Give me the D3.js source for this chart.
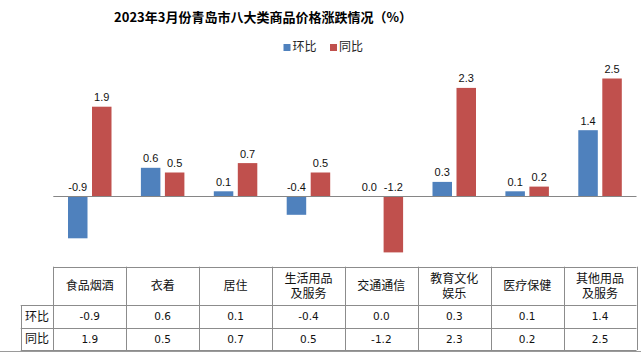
<!DOCTYPE html>
<html>
<head>
<meta charset="utf-8">
<script src="https://cdn.jsdelivr.net/npm/d3@7"></script>
<style>
body { margin: 0; background: #fff; }
svg { display: block; }
</style>
</head>
<body>
<svg id="chart"></svg>
<script>
var categories = ["食品烟酒", "衣着", "居住", "生活用品及服务", "交通通信", "教育文化娱乐", "医疗保健", "其他用品及服务"]
var categoryLines = [["食品烟酒"], ["衣着"], ["居住"], ["生活用品", "及服务"], ["交通通信"], ["教育文化", "娱乐"], ["医疗保健"], ["其他用品", "及服务"]]
var seriesNames = ["环比", "同比"]
var huanbi = [-0.9, 0.6, 0.1, -0.4, 0.0, 0.3, 0.1, 1.4]
var tongbi = [1.9, 0.5, 0.7, 0.5, -1.2, 2.3, 0.2, 2.5]
var colors = ["#4F81BD", "#C0504D"]

var dimensions = {
    width: 641,
    height: 353,
    left: 53.3,
    right: 636.5,
    labelLeft: 20.7,
    tableTop: 266.7,
    headerBottom: 305,
    row1Bottom: 327.7,
    row2Bottom: 349.5
}

var seriesValues = [huanbi, tongbi]
var bars = []
categories.forEach((c, i) => {
    seriesNames.forEach((s, j) => {
        bars.push({cat: c, series: s, value: seriesValues[j][i], color: colors[j]})
    })
})

var svg = d3.select("#chart")
            .attr("width", dimensions.width)
            .attr("height", dimensions.height)

var xScale = d3.scaleBand()
               .domain(categories)
               .range([dimensions.left, dimensions.right])

var subScale = d3.scaleBand()
                 .domain(seriesNames)
                 .range([xScale.bandwidth() / 2 - 21.75, xScale.bandwidth() / 2 + 21.75])
                 .paddingInner(0.1875)

var yScale = d3.scaleLinear()
               .domain([-1.5, 3])
               .range([266.5, 55])

// plain hyphen for negatives, like the original
var fmt = v => d3.format(".1f")(v).replace("\u2212", "-")

// title
svg.append("text")
   .attr("x", 263)
   .attr("y", 22)
   .attr("text-anchor", "middle")
   .style("font-family", "'Noto Sans CJK SC', sans-serif")
   .style("font-size", "13px")
   .style("font-weight", "bold")
   .text("2023年3月份青岛市八大类商品价格涨跌情况（%）")

// legend
var legend = svg.append("g")
seriesNames.forEach((s, j) => {
    var lx = 283.5 + j * 46.5
    legend.append("rect")
          .attr("x", lx)
          .attr("y", 44)
          .attr("width", 7)
          .attr("height", 7)
          .attr("fill", colors[j])
    legend.append("text")
          .attr("x", lx + 9)
          .attr("y", 51)
          .style("font-family", "'Noto Sans CJK SC', sans-serif")
          .style("font-size", "12px")
          .attr("fill", "#222")
          .text(s)
})

// bars
svg.append("g")
   .selectAll("rect")
   .data(bars)
   .enter()
   .append("rect")
   .attr("x", d => xScale(d.cat) + subScale(d.series))
   .attr("width", subScale.bandwidth())
   .attr("y", d => yScale(Math.max(0, d.value)))
   .attr("height", d => Math.abs(yScale(d.value) - yScale(0)))
   .attr("fill", d => d.color)

// data labels
svg.append("g")
   .selectAll("text")
   .data(bars)
   .enter()
   .append("text")
   .attr("x", d => xScale(d.cat) + subScale(d.series) + subScale.bandwidth() / 2)
   .attr("y", d => yScale(Math.max(0, d.value)) - 5.5)
   .attr("text-anchor", "middle")
   .style("font-family", "'Liberation Sans', Arial, sans-serif")
   .style("font-size", "11px")
   .attr("fill", "#111")
   .text(d => fmt(d.value))

// zero line
svg.append("line")
   .attr("x1", dimensions.left)
   .attr("x2", dimensions.right)
   .attr("y1", yScale(0) + 0.5)
   .attr("y2", yScale(0) + 0.5)
   .style("stroke", "#868686")
   .style("stroke-width", 1)

// data table
var table = svg.append("g")
               .style("stroke", "#8c8c8c")
               .style("stroke-width", 1)
var hLines = [
    [dimensions.left, dimensions.tableTop],
    [dimensions.labelLeft, dimensions.headerBottom],
    [dimensions.labelLeft, dimensions.row1Bottom],
    [dimensions.labelLeft, dimensions.row2Bottom]
]
hLines.forEach(h => {
    table.append("line")
         .attr("x1", h[0]).attr("x2", dimensions.right)
         .attr("y1", Math.round(h[1]) + 0.5).attr("y2", Math.round(h[1]) + 0.5)
})
table.append("line")
     .attr("x1", Math.round(dimensions.labelLeft) + 0.5).attr("x2", Math.round(dimensions.labelLeft) + 0.5)
     .attr("y1", dimensions.headerBottom).attr("y2", dimensions.row2Bottom + 0.5)
categories.forEach(c => {
    var bx = Math.round(xScale(c)) + 0.5
    table.append("line")
         .attr("x1", bx).attr("x2", bx)
         .attr("y1", dimensions.tableTop).attr("y2", dimensions.row2Bottom + 0.5)
})
table.append("line")
     .attr("x1", Math.round(dimensions.right) + 0.5).attr("x2", Math.round(dimensions.right) + 0.5)
     .attr("y1", dimensions.tableTop).attr("y2", dimensions.row2Bottom + 0.5)

var headerMid = (dimensions.tableTop + dimensions.headerBottom) / 2
categoryLines.forEach((lines, i) => {
    lines.forEach((t, k) => {
        svg.append("text")
           .attr("x", xScale(categories[i]) + xScale.bandwidth() / 2)
           .attr("y", headerMid + (k - (lines.length - 1) / 2) * 15.7 + 4.5)
           .attr("text-anchor", "middle")
           .style("font-family", "'Noto Sans CJK SC', sans-serif")
           .style("font-size", "12px")
           .attr("fill", "#111")
           .text(t)
    })
})

var rowMids = [(dimensions.headerBottom + dimensions.row1Bottom) / 2, (dimensions.row1Bottom + dimensions.row2Bottom) / 2]
seriesNames.forEach((s, j) => {
    svg.append("text")
       .attr("x", (dimensions.labelLeft + dimensions.left) / 2)
       .attr("y", rowMids[j] + 4.5)
       .attr("text-anchor", "middle")
       .style("font-family", "'Noto Sans CJK SC', sans-serif")
       .style("font-size", "12px")
       .attr("fill", "#111")
       .text(s)
    seriesValues[j].forEach((v, i) => {
        svg.append("text")
           .attr("x", xScale(categories[i]) + xScale.bandwidth() / 2)
           .attr("y", rowMids[j] + 4)
           .attr("text-anchor", "middle")
           .style("font-family", "'DejaVu Sans', Verdana, sans-serif")
           .style("font-size", "10.5px")
           .attr("fill", "#111")
           .text(fmt(v))
    })
})

// bottom frame line
svg.append("line")
   .attr("x1", 0).attr("x2", dimensions.width)
   .attr("y1", 351.5).attr("y2", 351.5)
   .style("stroke", "#9a9a9a")
</script>
</body>
</html>
